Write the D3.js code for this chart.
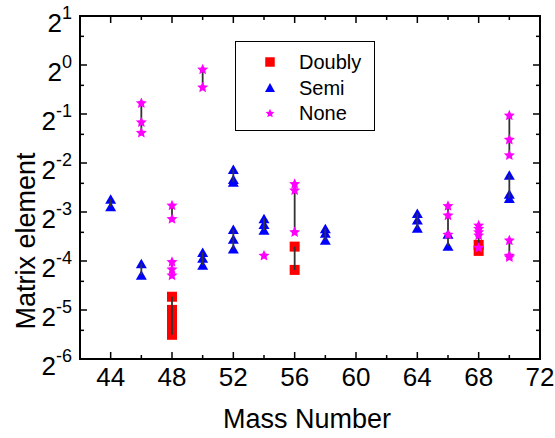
<!DOCTYPE html>
<html>
<head>
<meta charset="utf-8">
<script src="https://cdn.jsdelivr.net/npm/d3@7"></script>
<style>
  html, body { margin: 0; padding: 0; background: #fff; }
  svg { display: block; }
  text { font-family: "Liberation Sans", Arial, sans-serif; fill: #000; }
</style>
</head>
<body>
<svg id="chart" width="555" height="438"></svg>
<script>
// Axis ticks
const xTicks = [44, 48, 52, 56, 60, 64, 68, 72];
const xMinorTicks = [46, 50, 54, 58, 62, 66, 70];
const yExponents = [-6, -5, -4, -3, -2, -1, 0, 1];

// Matrix elements per nucleus, grouped by mass number
const doublyGroups = [
  { mass: 48, values: [0.0377, 0.0313, 0.0280, 0.0249, 0.0220] },
  { mass: 56, values: [0.0766, 0.0551] },
  { mass: 68, values: [0.0785, 0.0721] }
];
const semiGroups = [
  { mass: 44, values: [0.150, 0.135] },
  { mass: 46, values: [0.0604, 0.0513] },
  { mass: 50, values: [0.0708, 0.0651, 0.0590] },
  { mass: 52, values: [0.229, 0.199, 0.191] },
  { mass: 52, values: [0.0980, 0.0854, 0.0742] },
  { mass: 54, values: [0.114, 0.105, 0.097] },
  { mass: 58, values: [0.0990, 0.0930, 0.0842] },
  { mass: 64, values: [0.123, 0.112, 0.0996] },
  { mass: 66, values: [0.0917, 0.0773] },
  { mass: 70, values: [0.211, 0.161, 0.152] }
];
const noneGroups = [
  { mass: 46, values: [0.587, 0.448, 0.386] },
  { mass: 48, values: [0.138, 0.114] },
  { mass: 48, values: [0.0620, 0.0559, 0.0513] },
  { mass: 50, values: [0.945, 0.733] },
  { mass: 54, values: [0.0679] },
  { mass: 56, values: [0.187, 0.171, 0.0947] },
  { mass: 66, values: [0.137, 0.120, 0.0913] },
  { mass: 68, values: [0.104, 0.0993, 0.0947, 0.0904, 0.0759] },
  { mass: 70, values: [0.493, 0.350, 0.281] },
  { mass: 70, values: [0.0842, 0.0679, 0.0664] }
];

const legendItems = [
  { label: "Doubly", shape: "square", color: "#ff0000" },
  { label: "Semi", shape: "triangle", color: "#0000ff" },
  { label: "None", shape: "star", color: "#ff00ff" }
];

const margin = { left: 80, right: 540, top: 16, bottom: 359 };
const svg = d3.select("#chart");

const x = d3.scaleLinear().domain([42, 72]).range([margin.left, margin.right]);
const y = d3.scaleLog().base(2).domain([Math.pow(2, -6), 2]).range([margin.bottom, margin.top]);

// Marker paths centred on their bounding boxes
function trianglePath(w, h) {
  return `M0,${-h / 2}L${w / 2},${h / 2}L${-w / 2},${h / 2}Z`;
}
function starPath(outer, inner) {
  const pts = d3.range(10).map(i => {
    const r = i % 2 ? inner : outer;
    const a = -Math.PI / 2 + i * Math.PI / 5;
    return [r * Math.cos(a), r * Math.sin(a) + outer * 0.1];
  });
  return "M" + pts.map(p => p.map(c => c.toFixed(2)).join(",")).join("L") + "Z";
}
const squarePath = s => `M${-s / 2},${-s / 2}h${s}v${s}h${-s}Z`;

function shapePath(shape, legend) {
  if (shape === "square") return squarePath(legend ? 9.5 : 10);
  if (shape === "triangle") return trianglePath(legend ? 10 : 11, legend ? 9 : 9.5);
  return legend ? starPath(4.6, 2.2) : starPath(5.8, 2.7);
}

const flatten = groups => groups.flatMap(g => g.values.map(v => ({ mass: g.mass, value: v })));

const plot = svg.append("g");

function drawMarkers(groups, shape, color) {
  plot.append("g").selectAll("path")
    .data(flatten(groups))
    .join("path")
    .attr("d", shapePath(shape, false))
    .attr("transform", d => `translate(${x(d.mass)},${y(d.value)})`)
    .attr("fill", color);
}

function drawRanges(groups) {
  plot.append("g").selectAll("line")
    .data(groups.filter(g => g.values.length > 1))
    .join("line")
    .attr("x1", g => x(g.mass)).attr("x2", g => x(g.mass))
    .attr("y1", g => y(d3.max(g.values))).attr("y2", g => y(d3.min(g.values)))
    .attr("stroke", "#333").attr("stroke-width", 1.8);
}

drawMarkers(doublyGroups, "square", "#ff0000");
drawMarkers(semiGroups, "triangle", "#0000ff");
drawRanges([...doublyGroups, ...semiGroups, ...noneGroups]);
drawMarkers(noneGroups, "star", "#ff00ff");

// Axes: ticks point inward on all four sides
const majorLen = 7, minorLen = 4;
const axes = svg.append("g").attr("stroke", "#000");

function xTickMarks(values, len) {
  values.forEach(v => {
    axes.append("line").attr("x1", x(v)).attr("x2", x(v))
      .attr("y1", margin.bottom).attr("y2", margin.bottom - len).attr("stroke-width", 1.5);
    axes.append("line").attr("x1", x(v)).attr("x2", x(v))
      .attr("y1", margin.top).attr("y2", margin.top + len).attr("stroke-width", 1.5);
  });
}
xTickMarks(xTicks, majorLen);
xTickMarks(xMinorTicks, minorLen);

const yMajor = yExponents.map(e => Math.pow(2, e));
const yMinor = yExponents.slice(0, -1).map(e => 1.5 * Math.pow(2, e));
function yTickMarks(values, len) {
  values.forEach(v => {
    axes.append("line").attr("y1", y(v)).attr("y2", y(v))
      .attr("x1", margin.left).attr("x2", margin.left + len).attr("stroke-width", 1.5);
    axes.append("line").attr("y1", y(v)).attr("y2", y(v))
      .attr("x1", margin.right).attr("x2", margin.right - len).attr("stroke-width", 1.5);
  });
}
yTickMarks(yMajor, majorLen);
yTickMarks(yMinor, minorLen);

axes.append("rect")
  .attr("x", margin.left).attr("y", margin.top)
  .attr("width", margin.right - margin.left).attr("height", margin.bottom - margin.top)
  .attr("fill", "none").attr("stroke-width", 2);

// Tick labels
svg.append("g").selectAll("text")
  .data(xTicks)
  .join("text")
  .attr("x", d => x(d)).attr("y", 386)
  .attr("text-anchor", "middle").attr("font-size", 26)
  .text(d => d);

const yLabels = svg.append("g").selectAll("text")
  .data(yExponents)
  .join("text")
  .attr("x", 72).attr("y", d => y(Math.pow(2, d)) + 16)
  .attr("text-anchor", "end").attr("font-size", 26);
yLabels.append("tspan").text("2");
yLabels.append("tspan").attr("font-size", 18).attr("dy", -13).text(d => d);

// Axis titles
svg.append("text")
  .attr("x", 307).attr("y", 428)
  .attr("text-anchor", "middle").attr("font-size", 27)
  .text("Mass Number");
svg.append("text")
  .attr("transform", "translate(35,241) rotate(-90)")
  .attr("text-anchor", "middle").attr("font-size", 27)
  .text("Matrix element");

// Legend
const legend = svg.append("g");
legend.append("rect")
  .attr("x", 235.5).attr("y", 41.5).attr("width", 139).attr("height", 89)
  .attr("fill", "#fff").attr("stroke", "#000").attr("stroke-width", 1);
const rowY = [62, 87.5, 113];
legendItems.forEach((item, i) => {
  legend.append("path")
    .attr("d", shapePath(item.shape, true))
    .attr("transform", `translate(270,${rowY[i]})`)
    .attr("fill", item.color);
  legend.append("text")
    .attr("x", 299).attr("y", rowY[i] + 7)
    .attr("font-size", 20)
    .text(item.label);
});
</script>
</body>
</html>
